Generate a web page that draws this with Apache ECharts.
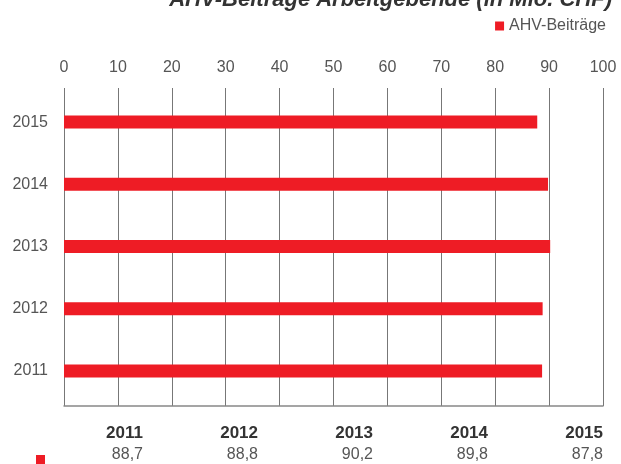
<!DOCTYPE html>
<html><head><meta charset="utf-8">
<script src="https://cdn.jsdelivr.net/npm/echarts@6/dist/echarts.min.js"></script>
<style>html,body{margin:0;padding:0;background:#fff}#c{width:621px;height:464px}</style>
</head><body><div id="c"></div>
<script>
var titleText = 'AHV-Beiträge Arbeitgebende (in Mio. CHF)';
var seriesName = 'AHV-Beiträge';
var years = ['2011', '2012', '2013', '2014', '2015'];
var values = [88.7, 88.8, 90.2, 89.8, 87.8];
var RED = '#ee1c25';
var FONT = 'Liberation Sans';

function fmt(v) { return v.toFixed(1).replace('.', ','); }

var chart = echarts.init(document.getElementById('c'), null, {renderer: 'canvas'});
chart.setOption({
  animation: false,
  textStyle: {fontFamily: FONT},
  title: {
    text: titleText, right: 4, top: -16,
    textStyle: {fontFamily: FONT, fontSize: 22, fontWeight: 'bold', fontStyle: 'italic', color: '#333'}
  },
  legend: {
    data: [seriesName], right: 10, top: 13, icon: 'rect', itemWidth: 9, itemHeight: 9, itemGap: 6,
    textStyle: {fontFamily: FONT, fontSize: 16, color: '#555'}
  },
  grid: [
    {left: 64, right: 18, top: 88, bottom: 58},
    {left: 143, right: 18, top: 418, height: 1},
    {left: 64, right: 18, top: 91, bottom: 62}
  ],
  xAxis: [
    {type: 'value', gridIndex: 0, position: 'top', min: 0, max: 100, interval: 10,
     axisLine: {show: false}, axisTick: {show: false},
     axisLabel: {margin: 12, fontSize: 16, color: '#555', fontFamily: FONT},
     splitLine: {show: true, lineStyle: {color: '#777', width: 1}}},
    {type: 'value', gridIndex: 0, position: 'bottom', min: 0, max: 100, interval: 10,
     axisLine: {show: true, onZero: false, lineStyle: {color: '#888', width: 1.5}}, axisTick: {show: false},
     axisLabel: {show: false}, splitLine: {show: false}},
    {type: 'category', gridIndex: 1, position: 'bottom', data: years, boundaryGap: false,
     axisLine: {show: false}, axisTick: {show: false}, splitLine: {show: false},
     axisLabel: {interval: 0, align: 'right', margin: 6, fontSize: 17, fontWeight: 'bold', color: '#333', fontFamily: FONT}},
    {type: 'category', gridIndex: 1, position: 'bottom', offset: 22, data: years, boundaryGap: false,
     axisLine: {show: false}, axisTick: {show: false}, splitLine: {show: false},
     axisLabel: {interval: 0, align: 'right', margin: 6, fontSize: 16, color: '#555', fontFamily: FONT,
       formatter: function (v, i) { return fmt(values[i]); }}},
    {type: 'value', gridIndex: 2, min: 0, max: 100, show: false}
  ],
  yAxis: [
    {type: 'category', gridIndex: 0, data: years, show: false},
    {type: 'value', gridIndex: 1, show: false, min: 0, max: 1},
    {type: 'category', gridIndex: 2, data: years,
     axisLine: {show: false}, axisTick: {show: false},
     axisLabel: {margin: 16, fontSize: 16, color: '#555', fontFamily: FONT}}
  ],
  series: [
    {name: seriesName, type: 'bar', xAxisIndex: 4, yAxisIndex: 2, data: values,
     barWidth: 13, itemStyle: {color: RED}}
  ],
  graphic: [
    {type: 'rect', left: 36, top: 455, shape: {width: 9, height: 9}, style: {fill: RED}}
  ]
});
</script></body></html>
